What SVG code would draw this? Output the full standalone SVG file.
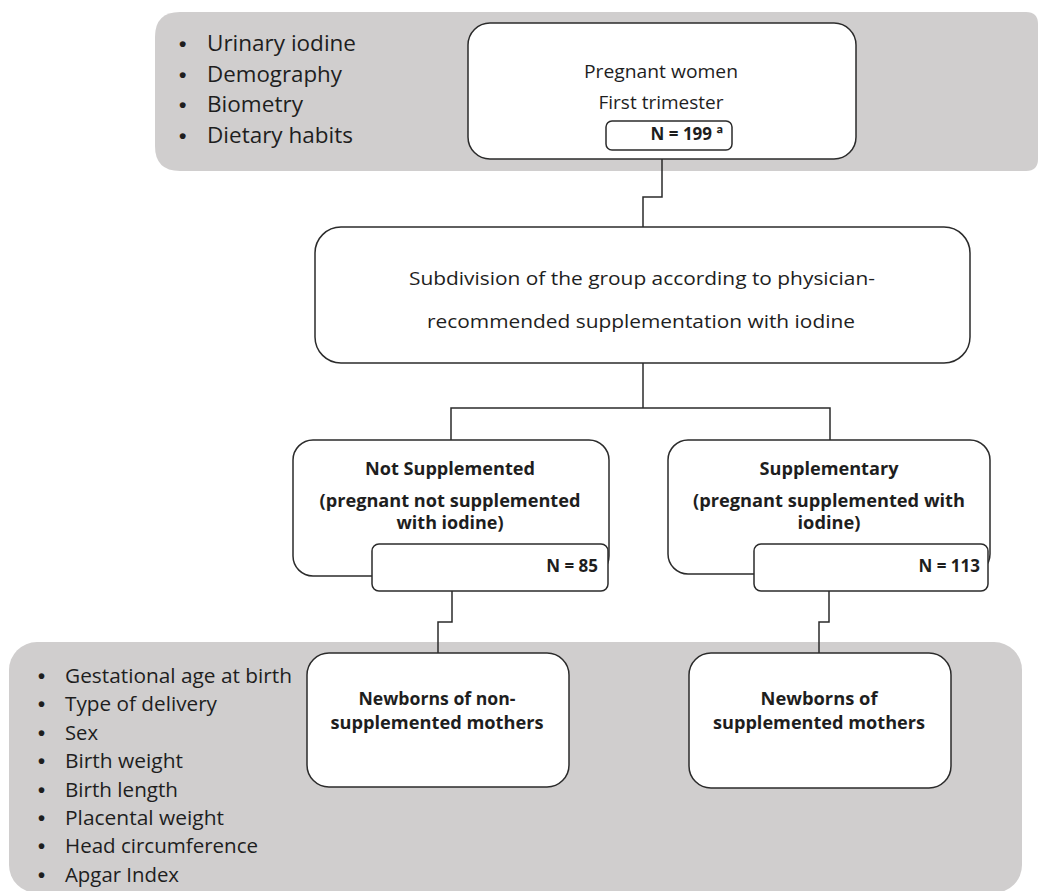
<svg xmlns="http://www.w3.org/2000/svg" width="1038" height="891" viewBox="0 0 1038 891">
<style>
.band{fill:#d0cece;stroke:none}
.box{fill:#fff;stroke:#2b2b2b;stroke-width:1.5}
.t{font-family:"Open Sans","Liberation Sans",sans-serif;fill:#1e1e1e}
.b{font-weight:bold}
.c{text-anchor:middle}
.e{text-anchor:end}
.blt{font-family:"Liberation Sans",sans-serif;fill:#1e1e1e;font-weight:bold}
.conn{fill:none;stroke:#2b2b2b;stroke-width:1.5}
</style>
<rect width="1038" height="891" fill="#fff"/>
<g id="band-top">
<path class="band" d="M180,12 H1026 Q1038,12 1038,24 V159 Q1038,171 1026,171 H180 Q155,171 155,146 V37 Q155,12 180,12 Z"/>
<g class="blt" font-size="21">
<text x="179" y="51">•</text><text x="179" y="82">•</text><text x="179" y="112">•</text><text x="179" y="143">•</text>
</g>
<g class="t" font-size="21">
<text x="207" y="51" textLength="149" lengthAdjust="spacingAndGlyphs">Urinary iodine</text>
<text x="207" y="82" textLength="135" lengthAdjust="spacingAndGlyphs">Demography</text>
<text x="207" y="112" textLength="96" lengthAdjust="spacingAndGlyphs">Biometry</text>
<text x="207" y="143" textLength="146" lengthAdjust="spacingAndGlyphs">Dietary habits</text>
</g>
</g>
<g id="band-bottom">
<rect class="band" x="9" y="642" width="1013" height="251" rx="28"/>
<g class="blt" font-size="20">
<text x="38" y="683">•</text><text x="38" y="711">•</text><text x="38" y="740">•</text><text x="38" y="768">•</text>
<text x="38" y="797">•</text><text x="38" y="825">•</text><text x="38" y="853">•</text><text x="38" y="882">•</text>
</g>
<g class="t" font-size="20">
<text x="65" y="683" textLength="227" lengthAdjust="spacingAndGlyphs">Gestational age at birth</text>
<text x="65" y="711" textLength="152" lengthAdjust="spacingAndGlyphs">Type of delivery</text>
<text x="65" y="740" textLength="33" lengthAdjust="spacingAndGlyphs">Sex</text>
<text x="65" y="768" textLength="118" lengthAdjust="spacingAndGlyphs">Birth weight</text>
<text x="65" y="797" textLength="113" lengthAdjust="spacingAndGlyphs">Birth length</text>
<text x="65" y="825" textLength="159" lengthAdjust="spacingAndGlyphs">Placental weight</text>
<text x="65" y="853" textLength="193" lengthAdjust="spacingAndGlyphs">Head circumference</text>
<text x="65" y="882" textLength="114" lengthAdjust="spacingAndGlyphs">Apgar Index</text>
</g>
</g>
<g id="connectors">
<path class="conn" d="M662,159 V197 H643 V227"/>
<path class="conn" d="M643,363 V408" stroke-width="2"/>
<path class="conn" d="M451,440 V408 H830 V440"/>
<path class="conn" d="M452,591 V622 H438 V653"/>
<path class="conn" d="M829,591 V622 H819 V653"/>
</g>
<g id="node-pregnant">
<rect class="box" x="468" y="23" width="388" height="136" rx="22"/>
<text class="t c" x="661" y="78" font-size="18" textLength="154" lengthAdjust="spacingAndGlyphs">Pregnant women</text>
<text class="t c" x="661" y="109" font-size="18" textLength="125" lengthAdjust="spacingAndGlyphs">First trimester</text>
<rect class="box" x="606" y="121" width="126" height="29" rx="6"/>
<text class="t b e" x="723" y="140" font-size="17">N = 199 ª</text>
</g>
<g id="node-subdivision">
<rect class="box" x="315" y="227" width="655" height="136" rx="26"/>
<text class="t" x="409" y="285" font-size="18" textLength="466" lengthAdjust="spacingAndGlyphs">Subdivision of the group according to physician-</text>
<text class="t" x="427" y="328" font-size="18" textLength="428" lengthAdjust="spacingAndGlyphs">recommended supplementation with iodine</text>
</g>
<g id="node-not-supplemented">
<rect class="box" x="293" y="440" width="316" height="136" rx="20"/>
<text class="t b c" x="450" y="475" font-size="18" textLength="170" lengthAdjust="spacingAndGlyphs">Not Supplemented</text>
<text class="t b c" x="450" y="507" font-size="17" textLength="261" lengthAdjust="spacingAndGlyphs">(pregnant not supplemented</text>
<text class="t b c" x="450" y="529" font-size="17" textLength="107" lengthAdjust="spacingAndGlyphs">with iodine)</text>
<rect class="box" x="372" y="544" width="236" height="47" rx="7"/>
<text class="t b e" x="598" y="572" font-size="17">N = 85</text>
</g>
<g id="node-supplementary">
<rect class="box" x="668" y="440" width="322" height="134" rx="20"/>
<text class="t b c" x="829" y="475" font-size="18" textLength="139" lengthAdjust="spacingAndGlyphs">Supplementary</text>
<text class="t b c" x="829" y="507" font-size="17" textLength="272" lengthAdjust="spacingAndGlyphs">(pregnant supplemented with</text>
<text class="t b c" x="829" y="529" font-size="17" textLength="63" lengthAdjust="spacingAndGlyphs">iodine)</text>
<rect class="box" x="754" y="544" width="234" height="47" rx="7"/>
<text class="t b e" x="980" y="572" font-size="17">N = 113</text>
</g>
<g id="node-newborns-non">
<rect class="box" x="307" y="653" width="262" height="134" rx="22"/>
<text class="t b c" x="437" y="705" font-size="17" textLength="157" lengthAdjust="spacingAndGlyphs">Newborns of non-</text>
<text class="t b c" x="437" y="729" font-size="17" textLength="213" lengthAdjust="spacingAndGlyphs">supplemented mothers</text>
</g>
<g id="node-newborns-supp">
<rect class="box" x="689" y="653" width="262" height="135" rx="22"/>
<text class="t b c" x="819" y="705" font-size="17" textLength="117" lengthAdjust="spacingAndGlyphs">Newborns of</text>
<text class="t b c" x="819" y="729" font-size="17" textLength="212" lengthAdjust="spacingAndGlyphs">supplemented mothers</text>
</g>
</svg>
